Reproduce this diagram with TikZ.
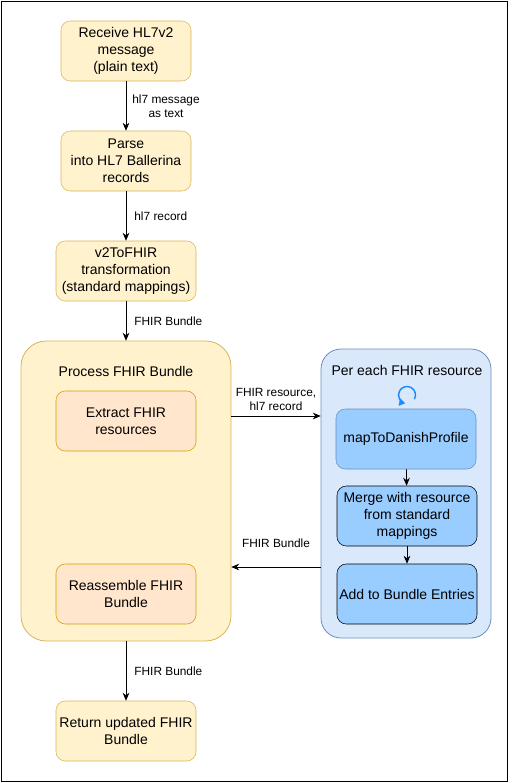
\documentclass[tikz,border=0pt]{standalone}
\usepackage{fontspec}
\setmainfont{Liberation Sans}
\usetikzlibrary{arrows.meta}

\definecolor{stepfill}{HTML}{FFF2CC}
\definecolor{stepline}{HTML}{D6B656}
\definecolor{subfill}{HTML}{FFE6CC}
\definecolor{subline}{HTML}{D79B00}
\definecolor{loopfill}{HTML}{DAE8FC}
\definecolor{loopline}{HTML}{6C8EBF}
\definecolor{taskfill}{HTML}{99CCFF}
\definecolor{iconblue}{HTML}{1A8CFF}

\tikzset{
  stepbox/.style={draw=stepline, fill=stepfill, rounded corners=7pt, align=center,
    inner sep=0pt, minimum height=45pt, font=\fontsize{10.5}{12.75}\selectfont},
  subbox/.style={stepbox, draw=subline, fill=subfill},
  taskbox/.style={stepbox, draw=black, fill=taskfill, minimum width=105pt},
  lbl/.style={align=center, inner sep=0pt, font=\fontsize{8.9}{10.5}\selectfont},
  title/.style={inner sep=0pt, font=\fontsize{10.5}{12}\selectfont},
  flow/.style={-{Stealth[length=6pt,width=5pt]}, line width=0.6pt},
}

\begin{document}
\begin{tikzpicture}[x=0.75pt, y=-0.75pt]
\useasboundingbox (0,0) rectangle (513,783);
\draw[line width=0.75pt] (1.5,1.5) rectangle (507.5,781.5);

% main flow
\node[stepbox, minimum width=97.5pt] (recv) at (126,51) {Receive HL7v2\\message\\(plain text)};
\node[stepbox, minimum width=97.5pt] (parse) at (126,161) {Parse\\into HL7 Ballerina\\records};
\node[stepbox, minimum width=105pt] (v2fhir) at (126,271) {v2ToFHIR\\transformation\\(standard mappings)};

% bundle processing
\draw[draw=stepline, fill=stepfill, rounded corners=19pt, line width=0.6pt] (21,341) rectangle (231,641);
\node[minimum width=157.5pt, minimum height=225pt, inner sep=0pt] (proc) at (126,491) {};
\node[title] (proctitle) at (126,371) {Process FHIR Bundle};
\node[subbox, minimum width=105pt] (extract) at (126,421) {Extract FHIR\\resources};
\node[subbox, minimum width=105pt] (reasm) at (126,594) {Reassemble FHIR\\Bundle};

\node[stepbox, minimum width=105pt] (ret) at (126,731) {Return updated FHIR\\Bundle};

% loop over resources
\draw[draw=loopline, fill=loopfill, rounded corners=15pt, line width=0.6pt] (321,349) rectangle (491,638);
\node[minimum width=127.5pt, minimum height=216.75pt, inner sep=0pt] (each) at (406,493.5) {};
\node[title] (eachtitle) at (407,370) {Per each FHIR resource};
\draw[iconblue, line width=1.1pt, -{Triangle[length=4.5pt,width=5.5pt]}] (407,395) ++(30:8.5) arc[start angle=30, end angle=-258, radius=8.5];
\node[taskbox, draw=loopline] (mapdk) at (406,439) {mapToDanishProfile};
\node[taskbox] (merge) at (407,516) {Merge with resource\\from standard\\mappings};
\node[taskbox] (addent) at (407,594) {Add to Bundle Entries};

\draw[flow] (recv) -- (parse) node[lbl, midway, right=4.5pt] {hl7 message\\as text};
\draw[flow] (parse) -- (v2fhir) node[lbl, midway, right=6pt] {hl7 record};
\draw[flow] (v2fhir) -- (proc) node[lbl, midway, right=6pt] {FHIR Bundle};
\draw[flow] (proc) -- (ret) node[lbl, midway, right=6pt] {FHIR Bundle};
\draw[flow] (proc.east |- 0,416) -- (each.west |- 0,416) node[lbl, midway, above=4pt] {FHIR resource,\\hl7 record};
\draw[flow] (each.west |- 0,567) -- (proc.east |- 0,567) node[lbl, midway, above=14pt] {FHIR Bundle};
\draw[flow] (mapdk) -- (merge);
\draw[flow] (merge) -- (addent);
\end{tikzpicture}
\end{document}
